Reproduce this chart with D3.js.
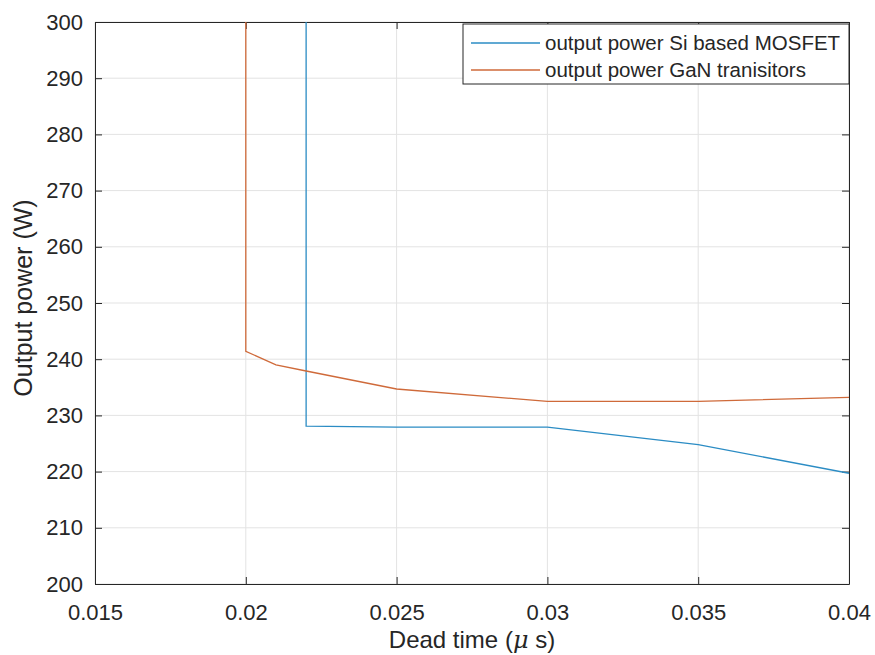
<!DOCTYPE html>
<html>
<head>
<meta charset="utf-8">
<script src="https://cdn.jsdelivr.net/npm/d3@7"></script>
<style>
  body { margin: 0; background: white; }
  text { font-family: "Liberation Sans", Arial, sans-serif; fill: #262626; }
</style>
</head>
<body>
<div id="container"></div>
<script>
// dead time in microseconds, output power in W
const siTime = [0.022, 0.022, 0.025, 0.03, 0.035, 0.04]
const siPower = [1000, 228.1, 227.9, 227.9, 224.8, 219.7]
const ganTime = [0.02, 0.02, 0.021, 0.022, 0.025, 0.03, 0.035, 0.04]
const ganPower = [1000, 241.4, 239.0, 237.9, 234.7, 232.5, 232.5, 233.2]
const xTicks = [0.015, 0.02, 0.025, 0.03, 0.035, 0.04]
const yTicks = [200, 210, 220, 230, 240, 250, 260, 270, 280, 290, 300]
const seriesNames = ["output power Si based MOSFET", "output power GaN tranisitors"]

const w = 875
const h = 655
const mLeft = 95, mRight = 849, mTop = 22, mBottom = 584

const svg = d3.select("#container")
    .append("svg")
    .attr("width", w)
    .attr("height", h)
    .style("background-color", "white")

const xScale = d3.scaleLinear().domain([0.015, 0.04]).range([mLeft, mRight])
const yScale = d3.scaleLinear().domain([200, 300]).range([mBottom, mTop])

// grid
svg.append("g").selectAll("line").data(xTicks).enter().append("line")
    .attr("x1", d => xScale(d)).attr("x2", d => xScale(d))
    .attr("y1", mTop).attr("y2", mBottom)
    .attr("stroke", "#e3e3e3").attr("stroke-width", 1)
svg.append("g").selectAll("line").data(yTicks).enter().append("line")
    .attr("y1", d => yScale(d)).attr("y2", d => yScale(d))
    .attr("x1", mLeft).attr("x2", mRight)
    .attr("stroke", "#e3e3e3").attr("stroke-width", 1)

// axes (ticks inside, box on)
const fmtX = d => String(+d.toFixed(3))
const xAxis = d3.axisBottom(xScale).tickValues(xTicks).tickFormat(fmtX).tickSizeInner(-7).tickSizeOuter(0).tickPadding(20)
const yAxis = d3.axisLeft(yScale).tickValues(yTicks).tickSizeInner(-7).tickSizeOuter(0).tickPadding(12)
const xTop = d3.axisTop(xScale).tickValues(xTicks).tickFormat("").tickSizeInner(-7).tickSizeOuter(0)
const yRight = d3.axisRight(yScale).tickValues(yTicks).tickFormat("").tickSizeInner(-7).tickSizeOuter(0)

svg.append("g").attr("transform", `translate(0, ${mBottom})`).call(xAxis)
svg.append("g").attr("transform", `translate(${mLeft}, 0)`).call(yAxis)
svg.append("g").attr("transform", `translate(0, ${mTop})`).call(xTop)
svg.append("g").attr("transform", `translate(${mRight}, 0)`).call(yRight)
svg.selectAll(".domain, .tick line").attr("stroke", "#262626")
svg.selectAll(".tick text").style("font-size", "22px").attr("fill", "#262626")
    .style("font-family", "'Liberation Sans', Arial, sans-serif")

// lines
svg.append("clipPath").attr("id", "clip").append("rect")
    .attr("x", mLeft).attr("y", mTop).attr("width", mRight - mLeft).attr("height", mBottom - mTop)

const line = d3.line().x(d => xScale(d[0])).y(d => yScale(d[1]))
const siData = siTime.map((t, i) => [t, siPower[i]])
const ganData = ganTime.map((t, i) => [t, ganPower[i]])
const colors = ["#2b8cc4", "#cf6a3a"]

svg.append("g").attr("clip-path", "url(#clip)")
    .selectAll("path").data([siData, ganData]).enter().append("path")
    .attr("d", line)
    .attr("fill", "none")
    .attr("stroke", (d, i) => colors[i])
    .attr("stroke-width", 1.3)

// axis labels
svg.append("text")
    .attr("x", (mLeft + mRight) / 2).attr("y", 648)
    .attr("text-anchor", "middle").style("font-size", "24px")
    .call(t => {
        t.append("tspan").text("Dead time (")
        t.append("tspan").text("\u03bc").style("font-style", "italic").style("font-family", "'DejaVu Serif', serif")
        t.append("tspan").text(" s)")
    })
svg.append("text")
    .attr("transform", `translate(32, 298) rotate(-90)`)
    .attr("text-anchor", "middle").style("font-size", "25px")
    .text("Output power (W)")

// legend
const legend = svg.append("g")
legend.append("rect")
    .attr("x", 463).attr("y", 24).attr("width", 386).attr("height", 60)
    .attr("fill", "white").attr("stroke", "#262626").attr("stroke-width", 1)
seriesNames.forEach((name, i) => {
    const yy = 43 + i * 27
    legend.append("line").attr("x1", 471).attr("x2", 540).attr("y1", yy).attr("y2", yy)
        .attr("stroke", colors[i]).attr("stroke-width", 1.3)
    legend.append("text").attr("x", 545).attr("y", yy + 7).style("font-size", "20.5px").text(name)
})
</script>
</body>
</html>
